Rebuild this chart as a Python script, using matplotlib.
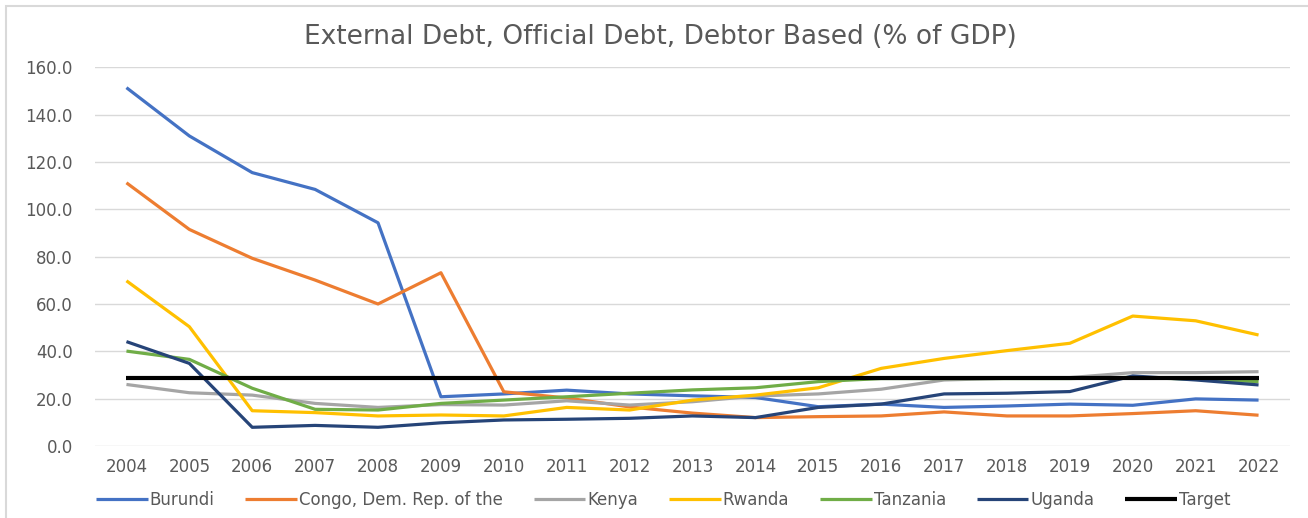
import matplotlib.pyplot as plt
from matplotlib.patches import Rectangle

years = list(range(2004, 2023))

burundi = [151.4, 131.0, 115.5, 108.4, 94.3, 20.8, 22.0, 23.6, 22.0, 21.2, 20.5, 16.6,
           17.7, 16.3, 16.9, 17.7, 17.2, 19.9, 19.4]
congo = [111.2, 91.5, 79.3, 70.1, 60.0, 73.2, 22.9, 20.3, 16.5, 13.9, 12.0, 12.4,
         12.7, 14.4, 12.7, 12.7, 13.7, 14.9, 13.0]
kenya = [26.0, 22.5, 21.5, 18.0, 16.3, 17.5, 17.3, 19.1, 17.3, 18.7, 21.1, 22.0,
         24.0, 27.9, 28.6, 28.9, 31.0, 31.0, 31.4]
rwanda = [69.8, 50.4, 14.9, 14.1, 12.7, 13.1, 12.7, 16.3, 15.2, 19.4, 21.5, 24.6,
          32.8, 37.0, 40.3, 43.4, 54.9, 52.9, 46.9]
tanzania = [40.1, 36.6, 24.4, 15.5, 15.2, 18.0, 19.4, 20.8, 22.3, 23.7, 24.6, 27.2,
            28.5, 28.5, 28.5, 28.5, 29.0, 28.2, 27.2]
uganda = [44.1, 34.9, 7.9, 8.7, 7.9, 9.8, 11.0, 11.3, 11.7, 12.7, 12.0, 16.3,
          17.7, 22.0, 22.3, 23.0, 29.6, 27.9, 25.8]
target = [28.6] * len(years)

series = [
    ("Burundi", burundi, "#4472C4", 2.3),
    ("Congo, Dem. Rep. of the", congo, "#ED7D31", 2.3),
    ("Kenya", kenya, "#A5A5A5", 2.3),
    ("Rwanda", rwanda, "#FFC000", 2.3),
    ("Tanzania", tanzania, "#70AD47", 2.3),
    ("Uganda", uganda, "#264478", 2.3),
    ("Target", target, "#000000", 3.0),
]

fig = plt.figure(figsize=(13.08, 5.18), dpi=100)
ax = fig.add_axes([95 / 1308, 72 / 518, 1195 / 1308, 378.7 / 518])

for name, vals, color, lw in series:
    ax.plot(years, vals, color=color, lw=lw, label=name, solid_capstyle="butt")

ax.set_xlim(2003.5, 2022.5)
ax.set_ylim(0, 160)
ax.set_xticks(years)
ax.set_yticks(range(0, 161, 20))
ax.set_yticklabels([f"{v:.1f}" for v in range(0, 161, 20)])
ax.grid(axis="y", color="#D9D9D9", lw=1)
ax.set_axisbelow(True)
for s in ax.spines.values():
    s.set_visible(False)
ax.tick_params(axis="both", length=0, labelsize=12, colors="#595959")
ax.tick_params(axis="y", pad=16)
ax.tick_params(axis="x", pad=9)

fig.text(0.5046, 1 - 37 / 518, "External Debt, Official Debt, Debtor Based (% of GDP)",
         ha="center", va="center", fontsize=19, color="#595959")

fig.legend(loc="center", bbox_to_anchor=(0.507, 18 / 518), ncol=7, frameon=False,
           fontsize=12, handlelength=3.1, handletextpad=0.12, columnspacing=1.85,
           labelcolor="#595959")

# light chart-area border, running off the right and bottom edges
fig.patches.append(Rectangle((6 / 1308, -0.1), 1.2, 1.1 - 6 / 518,
                             transform=fig.transFigure, fill=False,
                             edgecolor="#D9D9D9", lw=1.5))

fig.savefig("out.png", dpi=100)
